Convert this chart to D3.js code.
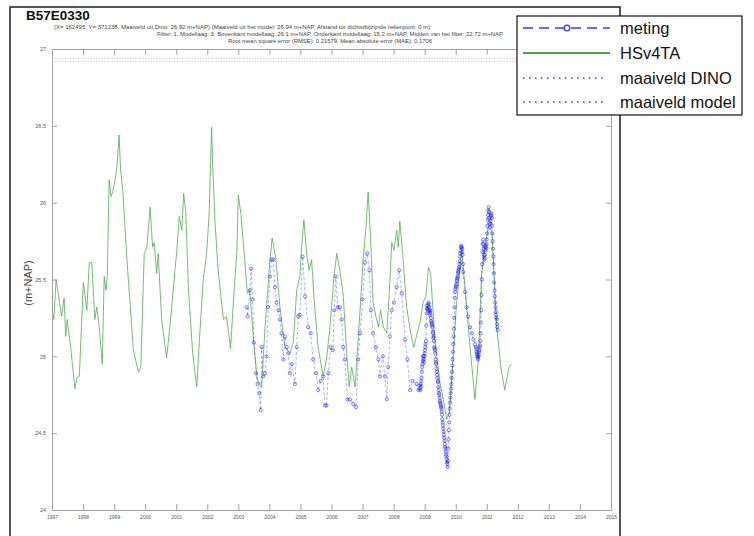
<!DOCTYPE html>
<html>
<head>
<meta charset="utf-8">
<script src="https://cdn.jsdelivr.net/npm/d3@7"></script>
<style>
  html, body { margin: 0; padding: 0; background: #fff; }
  svg { display: block; font-family: "Liberation Sans", Arial, sans-serif; }
</style>
</head>
<body>
<svg id="chart" width="754" height="536"></svg>
<script>
// Well B57E0330: modelled head (HSv4TA) vs. measured head (meting), m+NAP

const xTickYears = d3.range(1997, 2016);
const yTickValues = [24, 24.5, 25, 25.5, 26, 26.5, 27];
const yTickLabels = ["24", "24.5", "25", "25.5", "26", "26.5", "27"];

const maaiveldDino = 26.92;
const maaiveldModel = 26.94;

// HSv4TA model series (decimal year, m+NAP)
const hsYear = [
  1997.00, 1997.06, 1997.13, 1997.20, 1997.31, 1997.39, 1997.44, 1997.49, 1997.60, 1997.74,
  1997.80, 1997.88, 1998.01, 1998.12, 1998.20, 1998.28, 1998.38, 1998.44, 1998.52, 1998.62,
  1998.68, 1998.74, 1998.78, 1998.84, 1998.90, 1998.97, 1999.05, 1999.10, 1999.16, 1999.21,
  1999.28, 1999.42, 1999.62, 1999.78, 1999.86, 1999.97, 2000.05, 2000.16, 2000.24, 2000.29,
  2000.37, 2000.42, 2000.53, 2000.69, 2000.80, 2000.96, 2001.01, 2001.10, 2001.18, 2001.24,
  2001.31, 2001.39, 2001.53, 2001.66, 2001.76, 2001.87, 2001.98, 2002.06, 2002.14, 2002.17,
  2002.25, 2002.35, 2002.52, 2002.62, 2002.75, 2002.87, 2002.95, 2003.00, 2003.08, 2003.16,
  2003.29, 2003.37, 2003.48, 2003.61, 2003.75, 2003.86, 2004.02, 2004.09, 2004.21, 2004.34,
  2004.50, 2004.66, 2004.77, 2004.88, 2004.98, 2005.04, 2005.11, 2005.20, 2005.28, 2005.36,
  2005.44, 2005.57, 2005.73, 2005.84, 2005.95, 2006.08, 2006.17, 2006.27, 2006.38, 2006.49,
  2006.57, 2006.65, 2006.76, 2006.92, 2007.02, 2007.11, 2007.18, 2007.26, 2007.34, 2007.43,
  2007.51, 2007.58, 2007.67, 2007.78, 2007.86, 2007.94, 2008.01, 2008.10, 2008.15, 2008.20,
  2008.29, 2008.42, 2008.55, 2008.65, 2008.76, 2008.85, 2008.95, 2009.04, 2009.12, 2009.19,
  2009.33, 2009.49, 2009.60, 2009.71, 2009.79, 2009.90, 2010.01, 2010.11, 2010.19, 2010.30,
  2010.46, 2010.62, 2010.73, 2010.83, 2010.94, 2011.05, 2011.16, 2011.32, 2011.45, 2011.58,
  2011.66, 2011.72, 2011.80
];
const hsLevel = [
  25.30, 25.24, 25.50, 25.41, 25.26, 25.38, 25.13, 25.24, 25.06, 24.79,
  24.86, 24.87, 25.48, 25.30, 25.61, 25.61, 25.24, 25.32, 25.19, 24.95,
  25.52, 25.43, 25.52, 26.15, 26.04, 26.08, 26.17, 26.26, 26.44, 26.21,
  26.08, 25.61, 25.04, 24.90, 24.93, 25.67, 25.70, 25.97, 25.71, 25.74,
  25.54, 25.67, 25.24, 24.99, 25.20, 25.56, 25.67, 25.91, 25.82, 26.06,
  25.93, 25.45, 25.02, 24.80, 25.15, 25.50, 25.67, 25.93, 26.49, 26.26,
  25.87, 25.56, 25.24, 25.26, 25.05, 25.45, 25.67, 26.05, 25.93, 25.74,
  25.41, 25.43, 25.13, 24.85, 24.80, 25.19, 25.63, 25.77, 25.63, 25.32,
  25.06, 25.02, 25.09, 25.43, 25.52, 25.71, 25.89, 25.67, 25.56, 25.63,
  25.37, 25.06, 24.87, 24.98, 25.19, 25.52, 25.67, 25.56, 25.39, 25.02,
  24.80, 24.93, 24.80, 25.30, 25.63, 25.84, 26.07, 25.76, 25.35, 25.26,
  25.19, 25.30, 25.19, 25.15, 25.41, 25.74, 25.69, 25.82, 25.71, 25.88,
  25.67, 25.32, 25.15, 25.06, 25.15, 25.22, 25.35, 25.39, 25.58, 25.54,
  25.11, 24.83, 24.72, 24.59, 24.63, 24.93, 25.30, 25.52, 25.69, 25.45,
  25.06, 24.72, 24.98, 25.52, 25.71, 25.84, 25.82, 25.19, 24.93, 24.78,
  24.87, 24.93, 24.95
];

// Measured heads (meting): fortnightly until late 2008, daily logger afterwards
const metYear = [
  2003.27, 2003.30, 2003.37, 2003.41, 2003.46, 2003.50, 2003.57, 2003.62, 2003.67, 2003.72,
  2003.75, 2003.80, 2003.86, 2003.91, 2003.96, 2004.02, 2004.07, 2004.12, 2004.18, 2004.23,
  2004.29, 2004.34, 2004.39, 2004.45, 2004.50, 2004.56, 2004.61, 2004.66, 2004.72, 2004.82,
  2004.88, 2004.93, 2004.98, 2005.07, 2005.15, 2005.25, 2005.33, 2005.41, 2005.50, 2005.57,
  2005.65, 2005.73, 2005.79, 2005.84, 2005.90, 2005.97, 2006.04, 2006.09, 2006.14, 2006.20,
  2006.27, 2006.33, 2006.38, 2006.43, 2006.51, 2006.59, 2006.70, 2006.79, 2006.86, 2006.92,
  2007.00, 2007.08, 2007.15, 2007.22, 2007.27, 2007.34, 2007.43, 2007.51, 2007.56, 2007.65,
  2007.72, 2007.78, 2007.83, 2007.88, 2007.94, 2008.01, 2008.10, 2008.18, 2008.26, 2008.37,
  2008.44, 2008.53, 2008.61, 2008.74, 2008.80,
  2008.84, 2008.85, 2008.86, 2008.87, 2008.88, 2008.89, 2008.90, 2008.91, 2008.92, 2008.93,
  2008.94, 2008.95, 2008.96, 2008.97, 2008.98, 2008.99,
  2009.00, 2009.01, 2009.02, 2009.03, 2009.04, 2009.05, 2009.06, 2009.07, 2009.08, 2009.09,
  2009.10, 2009.11, 2009.12, 2009.13, 2009.14, 2009.15, 2009.16, 2009.17, 2009.18, 2009.19,
  2009.20, 2009.21, 2009.22, 2009.23, 2009.24, 2009.25, 2009.26, 2009.27, 2009.28, 2009.29,
  2009.30, 2009.31, 2009.32, 2009.33, 2009.34, 2009.35, 2009.36, 2009.37, 2009.38, 2009.39,
  2009.40, 2009.41, 2009.42, 2009.43, 2009.44, 2009.45, 2009.46, 2009.47, 2009.48, 2009.49,
  2009.50, 2009.51, 2009.52, 2009.53, 2009.54, 2009.55, 2009.56, 2009.57, 2009.58, 2009.59,
  2009.60, 2009.61, 2009.62, 2009.63, 2009.64, 2009.65, 2009.66, 2009.67, 2009.68, 2009.69,
  2009.70, 2009.71, 2009.72, 2009.73, 2009.74, 2009.75, 2009.76, 2009.77, 2009.78, 2009.79,
  2009.80, 2009.81, 2009.82, 2009.83, 2009.84, 2009.85, 2009.86, 2009.87, 2009.88, 2009.89,
  2009.90, 2009.91, 2009.92, 2009.93, 2009.94, 2009.95, 2009.96, 2009.97, 2009.98, 2009.99,
  2010.00, 2010.01, 2010.02, 2010.03, 2010.04, 2010.05, 2010.06, 2010.07, 2010.08, 2010.09,
  2010.10, 2010.11, 2010.12, 2010.13, 2010.14, 2010.15, 2010.16, 2010.17, 2010.18, 2010.19,
  2010.20, 2010.21, 2010.22, 2010.23, 2010.24,
  2010.30, 2010.35, 2010.40, 2010.46, 2010.52, 2010.57, 2010.62,
  2010.65, 2010.66, 2010.67, 2010.68, 2010.69, 2010.70, 2010.71, 2010.72, 2010.73, 2010.74,
  2010.75, 2010.76, 2010.77, 2010.78, 2010.79, 2010.80, 2010.81, 2010.82, 2010.83, 2010.84,
  2010.85, 2010.86, 2010.87, 2010.88, 2010.89, 2010.90, 2010.91, 2010.92, 2010.93, 2010.94,
  2010.95, 2010.96, 2010.97, 2010.98, 2010.99, 2011.00, 2011.01, 2011.02, 2011.03, 2011.04,
  2011.05, 2011.06, 2011.07, 2011.08, 2011.09, 2011.10, 2011.11, 2011.12, 2011.13, 2011.14,
  2011.15, 2011.16, 2011.17, 2011.18, 2011.19, 2011.20, 2011.21, 2011.22, 2011.23, 2011.24,
  2011.25, 2011.26, 2011.27, 2011.28, 2011.29, 2011.30, 2011.31, 2011.32, 2011.33, 2011.34,
  2011.35
];
const metLevel = [
  25.32, 25.26, 25.43, 25.57, 25.37, 25.09, 24.89, 24.82, 24.76, 24.65,
  25.06, 24.87, 24.89, 25.00, 25.32, 25.52, 25.63, 25.63, 25.45, 25.35,
  25.30, 25.24, 25.15, 24.98, 25.13, 25.06, 25.02, 24.89, 24.95, 24.82,
  25.06, 25.26, 25.27, 25.65, 25.39, 25.19, 25.15, 24.98, 24.89, 24.78,
  24.84, 24.87, 24.68, 24.68, 24.89, 25.06, 25.04, 25.30, 25.52, 25.32,
  25.32, 25.24, 25.06, 24.98, 24.72, 24.72, 24.69, 24.67, 24.98, 25.15,
  25.37, 25.61, 25.67, 25.56, 25.30, 25.15, 25.06, 24.98, 24.87, 25.00,
  24.87, 24.72, 24.93, 25.13, 25.30, 25.35, 25.45, 25.56, 25.41, 25.11,
  24.98, 24.78, 24.84, 24.82, 24.78,
  24.79, 24.81, 24.78, 24.82, 24.80, 24.84, 24.86, 24.90, 24.93, 24.95,
  24.97, 25.00, 25.00, 24.98, 24.96, 25.00,
  25.02, 25.04, 25.06, 25.08, 25.10, 25.20, 25.28, 25.31, 25.33, 25.31,
  25.30, 25.33, 25.35, 25.34, 25.32, 25.30, 25.28, 25.29, 25.30, 25.27,
  25.25, 25.23, 25.22, 25.21, 25.20, 25.19, 25.16, 25.15, 25.12, 25.13,
  25.10, 25.06, 25.05, 25.04, 25.02, 24.98, 24.96, 24.95, 24.92, 24.90,
  24.88, 24.86, 24.84, 24.83, 24.80, 24.78, 24.76, 24.75, 24.73, 24.71,
  24.70, 24.69, 24.68, 24.67, 24.66, 24.64, 24.62, 24.59, 24.57, 24.55,
  24.53, 24.51, 24.49, 24.47, 24.45, 24.43, 24.41, 24.40, 24.38, 24.36,
  24.35, 24.33, 24.31, 24.30, 24.28, 24.32, 24.40, 24.46, 24.52, 24.57,
  24.62, 24.66, 24.70, 24.73, 24.76, 24.79, 24.82, 24.86, 24.90, 24.94,
  24.98, 25.03, 25.08, 25.13, 25.18, 25.25, 25.32, 25.38, 25.42, 25.44,
  25.45, 25.46, 25.47, 25.49, 25.50, 25.51, 25.52, 25.54, 25.55, 25.56,
  25.57, 25.58, 25.60, 25.62, 25.65, 25.67, 25.69, 25.71, 25.72, 25.71,
  25.70, 25.68, 25.66, 25.60, 25.55,
  25.42, 25.32, 25.26, 25.19, 25.15, 25.11, 25.08,
  25.06, 25.05, 25.03, 25.02, 25.01, 25.00, 24.99, 24.98, 25.00, 25.01,
  25.03, 25.04, 25.06, 25.07, 25.10, 25.15, 25.22, 25.30, 25.40, 25.50,
  25.60, 25.68, 25.73, 25.76, 25.73, 25.70, 25.66, 25.63, 25.64, 25.66,
  25.69, 25.72, 25.71, 25.70, 25.73, 25.76, 25.80, 25.85, 25.89, 25.92,
  25.95, 25.97, 25.94, 25.90, 25.87, 25.84, 25.86, 25.88, 25.91, 25.93,
  25.92, 25.90, 25.85, 25.80, 25.75, 25.70, 25.65, 25.60, 25.54, 25.48,
  25.43, 25.39, 25.35, 25.32, 25.29, 25.27, 25.25, 25.24, 25.21, 25.19,
  25.17
];

const titleText = "B57E0330";
const infoLines = [
  "(X= 162495, Y= 371238, Maaiveld uit Dino: 26.92 m+NAP) (Maaiveld uit het model: 26.94 m+NAP, Afstand tot dichtstbijzijnde rekenpunt: 0 m)",
  "Filter: 1, Modellaag: 3, Bovenkant modellaag: 26.1 m+NAP, Onderkant modellaag: 15.2 m+NAP, Midden van het filter: 22.72 m+NAP",
  "Root mean square error (RMSE): 0.21579, Mean absolute error (MAE): 0.1706"
];
const legendLabels = ["meting", "HSv4TA", "maaiveld DINO", "maaiveld model"];

// ---------------------------------------------------------------------------
const svg = d3.select("#chart");
const plot = { left: 52, right: 611, top: 49, bottom: 510 };

const x = d3.scaleLinear().domain([1997, 2015]).range([plot.left, plot.right]);
const y = d3.scaleLinear().domain([24, 27]).range([plot.bottom, plot.top]);

const axisColor = "#a0a0a0";
const blue = "#1c1cff";
const green = "#52ad52";

// figure frame
svg.append("rect")
  .attr("x", 10).attr("y", 7).attr("width", 610).attr("height", 560)
  .attr("fill", "#fff").attr("stroke", "#2b2b2b").attr("stroke-width", 1.6);

// title and info lines
svg.append("text")
  .attr("x", 26).attr("y", 20)
  .attr("font-size", 13.5).attr("font-weight", "bold").attr("fill", "#111")
  .text(titleText);

const infoPos = [
  { x: 54, y: 28.5, w: 376 },
  { x: 157, y: 36, w: 346 },
  { x: 228, y: 43.3, w: 204 }
];
svg.selectAll("text.info").data(infoLines).join("text")
  .attr("class", "info")
  .attr("x", (d, i) => infoPos[i].x)
  .attr("y", (d, i) => infoPos[i].y)
  .attr("textLength", (d, i) => infoPos[i].w)
  .attr("lengthAdjust", "spacingAndGlyphs")
  .attr("font-size", 5.5).attr("fill", "#444")
  .text(d => d);

// clip region for the data
svg.append("clipPath").attr("id", "plotClip")
  .append("rect")
  .attr("x", plot.left).attr("y", plot.top)
  .attr("width", plot.right - plot.left).attr("height", plot.bottom - plot.top);

const dataG = svg.append("g").attr("clip-path", "url(#plotClip)");

// surface level lines
dataG.append("line")
  .attr("x1", x(1997)).attr("x2", x(2015))
  .attr("y1", y(maaiveldDino)).attr("y2", y(maaiveldDino))
  .attr("stroke", "#6a6aff").attr("stroke-width", 0.8)
  .attr("stroke-dasharray", "1,1.6").attr("opacity", 0.6);
dataG.append("line")
  .attr("x1", x(1997)).attr("x2", x(2015))
  .attr("y1", y(maaiveldModel)).attr("y2", y(maaiveldModel))
  .attr("stroke", "#666").attr("stroke-width", 0.8)
  .attr("stroke-dasharray", "1,1.6").attr("opacity", 0.6);

// model series
const hsData = hsYear.map((t, i) => ({ t, v: hsLevel[i] }));
const metData = metYear.map((t, i) => ({ t, v: metLevel[i] }));

const line = d3.line().x(d => x(d.t)).y(d => y(d.v));

dataG.append("path")
  .datum(hsData)
  .attr("d", line)
  .attr("fill", "none")
  .attr("stroke", green).attr("stroke-width", 1).attr("opacity", 0.8)
  .attr("stroke-linejoin", "round");

// measurements: dashed line with circle markers
dataG.append("path")
  .datum(metData)
  .attr("d", line)
  .attr("fill", "none")
  .attr("stroke", blue).attr("stroke-width", 0.8).attr("opacity", 0.45)
  .attr("stroke-dasharray", "3,2");

dataG.selectAll("circle.met").data(metData).join("circle")
  .attr("class", "met")
  .attr("cx", d => x(d.t)).attr("cy", d => y(d.v))
  .attr("r", 1.6)
  .attr("fill", "none").attr("stroke", blue)
  .attr("stroke-width", 0.9).attr("opacity", 0.62);

// axes (box with inward ticks on all sides)
function styleAxis(g, fontSize) {
  g.select(".domain").attr("stroke", axisColor).attr("stroke-width", 1);
  g.selectAll(".tick line").attr("stroke", axisColor).attr("stroke-width", 1);
  g.selectAll(".tick text").attr("fill", "#555").attr("font-size", fontSize)
    .attr("font-family", "\"Liberation Sans\", Arial, sans-serif");
}

svg.append("g")
  .attr("transform", `translate(0,${plot.bottom})`)
  .call(d3.axisBottom(x).tickValues(xTickYears).tickFormat(d3.format("d"))
    .tickSizeInner(-6).tickSizeOuter(0).tickPadding(5))
  .call(g => styleAxis(g, 5));

svg.append("g")
  .attr("transform", `translate(0,${plot.top})`)
  .call(d3.axisTop(x).tickValues(xTickYears).tickFormat("")
    .tickSizeInner(-6).tickSizeOuter(0))
  .call(g => styleAxis(g, 5));

svg.append("g")
  .attr("transform", `translate(${plot.left},0)`)
  .call(d3.axisLeft(y).tickValues(yTickValues)
    .tickFormat((d, i) => yTickLabels[i])
    .tickSizeInner(-5).tickSizeOuter(0).tickPadding(6))
  .call(g => styleAxis(g, 5.5));

svg.append("g")
  .attr("transform", `translate(${plot.right},0)`)
  .call(d3.axisRight(y).tickValues(yTickValues).tickFormat("")
    .tickSizeInner(-5).tickSizeOuter(0))
  .call(g => styleAxis(g, 5.5));

// y-axis title
svg.append("text")
  .attr("transform", "translate(32,283) rotate(-90)")
  .attr("text-anchor", "middle")
  .attr("font-size", 11).attr("fill", "#444")
  .text("(m+NAP)");

// legend
const lg = svg.append("g");
lg.append("rect")
  .attr("x", 517).attr("y", 16).attr("width", 225).attr("height", 99)
  .attr("fill", "#fff").attr("stroke", "#111").attr("stroke-width", 1.2);

const rowY = [28, 53, 78, 102];
const sx1 = 523, sx2 = 610;

lg.append("line")
  .attr("x1", sx1).attr("x2", sx2).attr("y1", rowY[0]).attr("y2", rowY[0])
  .attr("stroke", "#3b3bff").attr("stroke-width", 1.4)
  .attr("stroke-dasharray", "10,6");
lg.append("circle")
  .attr("cx", 567).attr("cy", rowY[0]).attr("r", 2.8)
  .attr("fill", "#fff").attr("stroke", "#3b3bff").attr("stroke-width", 1.3);

lg.append("line")
  .attr("x1", sx1).attr("x2", sx2).attr("y1", rowY[1]).attr("y2", rowY[1])
  .attr("stroke", "#4aa84a").attr("stroke-width", 2);

lg.append("line")
  .attr("x1", sx1).attr("x2", 607).attr("y1", rowY[2]).attr("y2", rowY[2])
  .attr("stroke", "#3b3bff").attr("stroke-width", 1.5)
  .attr("stroke-dasharray", "1.5,4.5");

lg.append("line")
  .attr("x1", sx1).attr("x2", 607).attr("y1", rowY[3]).attr("y2", rowY[3])
  .attr("stroke", "#444").attr("stroke-width", 1.5)
  .attr("stroke-dasharray", "1.5,4.5");

lg.selectAll("text.leg").data(legendLabels).join("text")
  .attr("class", "leg")
  .attr("x", 620).attr("y", (d, i) => rowY[i] + 6)
  .attr("font-size", 16.5).attr("fill", "#111")
  .text(d => d);
</script>
</body>
</html>
